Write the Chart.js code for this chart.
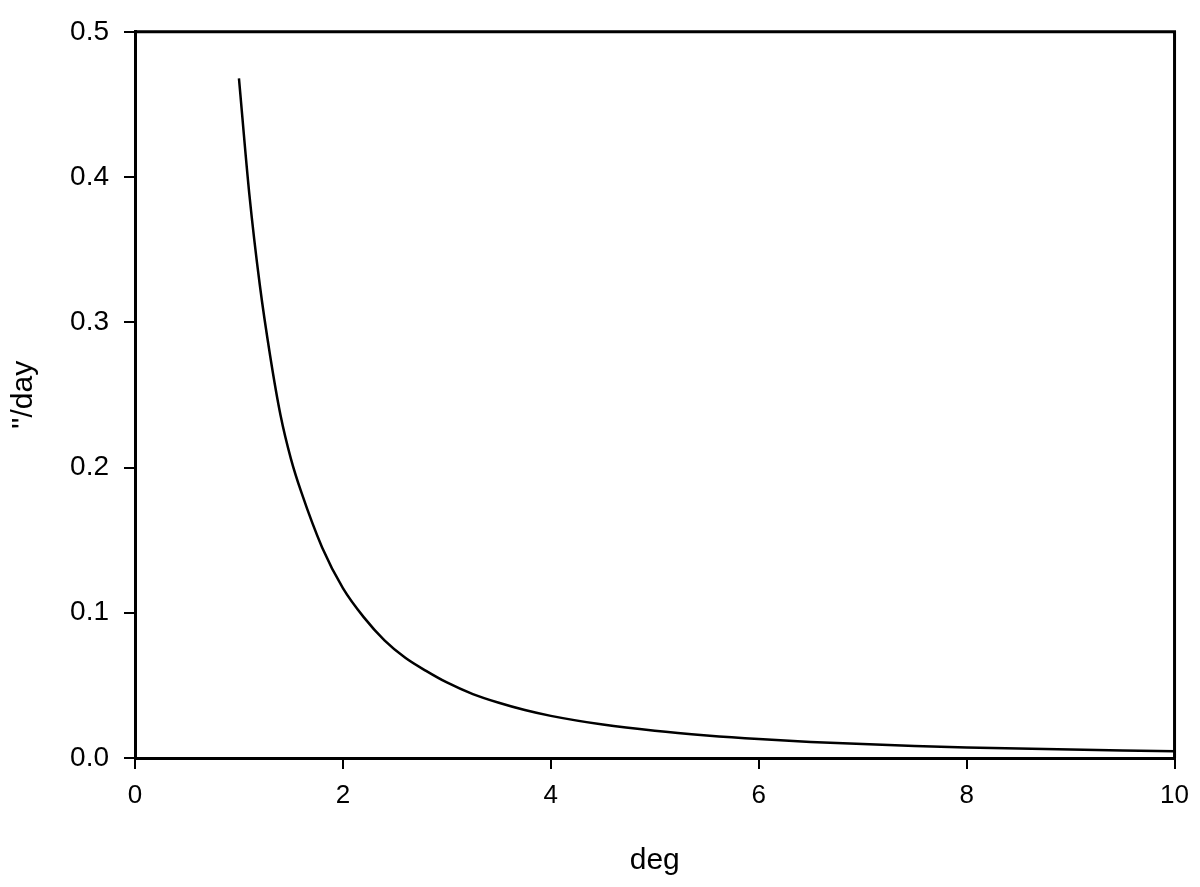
<!DOCTYPE html>
<html>
<head>
<meta charset="utf-8">
<title>''/day vs deg</title>
<script src="https://cdn.jsdelivr.net/npm/chart.js@4.4.0/dist/chart.umd.min.js"></script>
<style>
    html, body { margin: 0; padding: 0; background: #fff; }
    canvas { display: block; }
</style>
</head>
<body>
<canvas id="rateChart" width="1200" height="887"></canvas>
<script>
// --- data ---
const degValues = [1.0, 1.1, 1.2, 1.3, 1.4, 1.5, 1.6, 1.8, 2.0, 2.2, 2.4, 2.6, 2.8, 3.0,
    3.25, 3.5, 3.75, 4.0, 4.5, 5.0, 5.5, 6.0, 6.5, 7.0, 7.5, 8.0, 8.5, 9.0, 9.5, 10.0];
const rateValues = [0.468, 0.388, 0.326, 0.277, 0.236, 0.206, 0.183, 0.145, 0.117, 0.097,
    0.081, 0.069, 0.060, 0.052, 0.044, 0.038, 0.033, 0.029, 0.023, 0.0187, 0.0155, 0.013,
    0.0111, 0.0096, 0.0083, 0.0073, 0.0065, 0.0058, 0.0052, 0.0047];
const xTicks = [0, 2, 4, 6, 8, 10];
const yTicks = [0.0, 0.1, 0.2, 0.3, 0.4, 0.5];

const FONT = "'Liberation Sans', Arial, sans-serif";
Chart.defaults.font.family = FONT;
Chart.defaults.color = '#000';

// box on top and right of the plot
const frameBox = {
    id: 'frameBox',
    afterDraw: (chart) => {
        const { ctx, chartArea } = chart;
        ctx.save();
        ctx.strokeStyle = '#000';
        ctx.lineWidth = 3;
        ctx.beginPath();
        ctx.moveTo(chartArea.left, chartArea.top);
        ctx.lineTo(chartArea.right, chartArea.top);
        ctx.lineTo(chartArea.right, chartArea.bottom);
        ctx.stroke();
        ctx.restore();
    }
};

const points = degValues.map((x, i) => ({ x: x, y: rateValues[i] }));

new Chart(document.getElementById('rateChart'), {
    type: 'line',
    data: {
        datasets: [{
            data: points,
            borderColor: '#000',
            borderWidth: 2.5,
            pointRadius: 0,
            fill: false,
            cubicInterpolationMode: 'monotone'
        }]
    },
    plugins: [frameBox],
    options: {
        responsive: false,
        animation: false,
        layout: { padding: { top: 31, right: 25, left: 0, bottom: 0 } },
        plugins: {
            legend: { display: false },
            tooltip: { enabled: false }
        },
        scales: {
            x: {
                type: 'linear',
                min: 0,
                max: 10,
                afterBuildTicks: (scale) => { scale.ticks = xTicks.map(v => ({ value: v })); },
                afterFit: (scale) => { scale.height = 129; },
                border: { display: true, color: '#000', width: 3 },
                grid: { drawOnChartArea: false, color: '#000', lineWidth: 2, tickLength: 11 },
                ticks: { font: { size: 26 }, padding: 11, maxRotation: 0 },
                title: {
                    display: true,
                    text: 'deg',
                    font: { size: 30 },
                    padding: { top: 0, bottom: 8 }
                }
            },
            y: {
                type: 'linear',
                min: 0,
                max: 0.5,
                afterBuildTicks: (scale) => { scale.ticks = yTicks.map(v => ({ value: v })); },
                afterFit: (scale) => { scale.width = 135; },
                border: { display: true, color: '#000', width: 3 },
                grid: { drawOnChartArea: false, color: '#000', lineWidth: 2, tickLength: 11 },
                ticks: {
                    font: { size: 28 },
                    padding: 15,
                    callback: (v) => Number(v).toFixed(1)
                },
                title: {
                    display: true,
                    text: "''/day",
                    font: { size: 30 },
                    padding: { top: 6, bottom: 0 }
                }
            }
        }
    }
});
</script>
</body>
</html>
